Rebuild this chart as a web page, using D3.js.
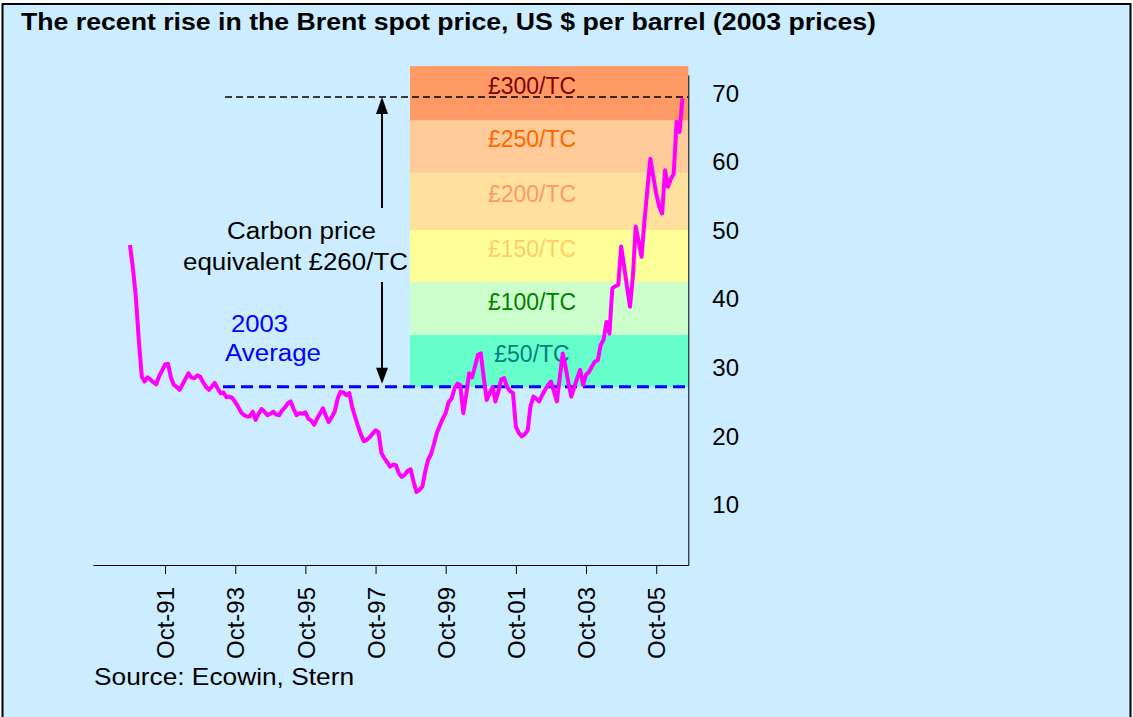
<!DOCTYPE html>
<html>
<head>
    <meta charset="utf-8">
    <script src="https://d3js.org/d3.v7.min.js"></script>
    <style>
      body { margin: 0; background: #fff; }
      text { font-family: "Liberation Sans", Arial, sans-serif; }
    </style>
</head>
<body>
    <script>
      // monthly Brent spot, 2003 prices, first value is Oct 1990
      const firstMonth = new Date(1990, 9, 1);
      const brentPrice = [
        47.9, 44.5, 40.4,                                                   // 1990 (Oct-Dec)
        34.0, 28.7, 28.0, 28.6, 28.3, 27.9, 27.6, 28.8, 29.6, 30.5, 30.6, 28.6, // 1991
        27.5, 27.2, 26.8, 27.6, 28.4, 29.2, 28.6, 28.5, 28.9, 28.7, 27.9, 27.2, // 1992
        26.8, 27.3, 27.8, 27.0, 26.3, 26.4, 25.7, 25.8, 25.6, 25.0, 24.3, 23.5, // 1993
        23.1, 22.9, 22.9, 23.6, 22.4, 23.3, 24.0, 23.6, 23.1, 23.3, 23.6, 23.2, // 1994
        23.1, 23.8, 24.2, 24.8, 25.1, 24.0, 23.1, 23.4, 23.3, 23.5, 22.6, 22.3, // 1995
        21.7, 22.6, 23.3, 24.1, 23.0, 22.1, 22.8, 23.6, 25.5, 26.5, 26.4, 26.0, // 1996
        26.3, 24.2, 22.9, 21.5, 20.3, 19.3, 19.5, 19.9, 20.4, 20.9, 20.6, 17.6, // 1997
        16.8, 16.2, 15.6, 15.9, 15.8, 14.6, 14.1, 14.4, 15.0, 15.2, 13.4, 11.9, // 1998
        12.2, 12.7, 14.8, 16.6, 17.4, 18.9, 20.5, 21.6, 22.6, 23.4, 25.0, 25.5, // 1999
        27.0, 27.7, 27.5, 23.4, 26.0, 29.2, 28.6, 30.2, 31.9, 32.1, 28.5, 25.3, // 2000
        26.3, 27.2, 25.1, 26.5, 28.3, 28.5, 27.2, 26.6, 26.3, 21.4, 20.5, 20.0, // 2001
        20.3, 20.9, 24.3, 25.8, 25.5, 25.1, 26.0, 26.8, 27.5, 28.0, 26.6, 25.1, // 2002
        28.6, 32.1, 30.2, 27.8, 25.8, 27.2, 28.5, 29.7, 27.5, 29.0, 29.4, 30.2, // 2003
        30.9, 31.1, 33.3, 34.1, 36.7, 35.0, 41.6, 41.9, 42.1, 47.7, 44.8, 41.8, // 2004
        38.9, 43.5, 50.6, 48.4, 46.2, 51.5, 56.0, 60.5, 57.8, 55.4, 53.5, 52.5, // 2005
        58.8, 56.4, 57.5, 58.3, 65.9, 64.4, 69.3                               // 2006 (Jan-Jul)
      ];

      const avg2003 = 27.25;      // blue dashed line
      const recentPeak = 69.5;    // black dashed line

      // carbon price bands, bottom edge to top edge in $ per barrel
      const bandEdges = [27.25, 34.8, 42.5, 50.1, 58.45, 66.1, 74.0];
      const bandLabels = ['£50/TC', '£100/TC', '£150/TC', '£200/TC', '£250/TC', '£300/TC'];
      const bandFills = ['#66FFCC', '#CCFFCC', '#FFFF99', '#FFE09C', '#FFCC99', '#FF9966'];
      const bandTextColors = ['#008080', '#008000', '#FFCC66', '#FF9966', '#FF6600', '#800000'];

      const yTicks = [10, 20, 30, 40, 50, 60, 70];
      const xTickDates = ['1991-10', '1993-10', '1995-10', '1997-10', '1999-10', '2001-10', '2003-10', '2005-10'];

      const width = 1133, height = 717;
      const bg = '#CCECFF';

      const svg = d3.select('body').append('svg')
          .attr('width', width)
          .attr('height', height);

      // frame
      svg.append('rect')
          .attr('x', 2.5).attr('y', 4)
          .attr('width', 1128).attr('height', 720)
          .attr('fill', bg)
          .attr('stroke', '#000')
          .attr('stroke-width', 2);

      const x = d3.scaleTime()
          .domain([new Date(1989, 8, 11), new Date(2006, 7, 31)])
          .range([93, 688.3]);
      const y = d3.scaleLinear()
          .domain([1.25, 72.7])
          .range([565, 75]);

      const bandX0 = 410, bandX1 = x.range()[1];

      // coloured bands
      const bands = bandLabels.map((label, i) => ({
        label: label,
        lo: bandEdges[i],
        hi: bandEdges[i + 1],
        fill: bandFills[i],
        color: bandTextColors[i]
      }));

      svg.selectAll('.band')
          .data(bands)
          .enter().append('rect')
          .attr('class', 'band')
          .attr('x', bandX0)
          .attr('width', bandX1 - bandX0)
          .attr('y', d => y(d.hi))
          .attr('height', d => y(d.lo) - y(d.hi))
          .attr('fill', d => d.fill);

      // labels sit a little above the middle of each band
      svg.selectAll('.band-label')
          .data(bands)
          .enter().append('text')
          .attr('class', 'band-label')
          .attr('x', 532)
          .attr('y', d => (y(d.hi) + y(d.lo)) / 2 + 1)
          .attr('text-anchor', 'middle')
          .attr('font-size', 23)
          .attr('fill', d => d.color)
          .text(d => d.label);

      // reference lines
      svg.append('line')
          .attr('x1', 225).attr('x2', bandX1)
          .attr('y1', y(recentPeak)).attr('y2', y(recentPeak))
          .attr('stroke', '#000')
          .attr('stroke-width', 1.6)
          .attr('stroke-dasharray', '7,4');

      svg.append('line')
          .attr('x1', 223).attr('x2', 690)
          .attr('y1', y(avg2003)).attr('y2', y(avg2003))
          .attr('stroke', '#0000FF')
          .attr('stroke-width', 3)
          .attr('stroke-dasharray', '12,6');

      // double headed arrow
      const ax = 382;
      const yTop = y(recentPeak), yBot = y(avg2003);
      svg.append('line')
          .attr('x1', ax).attr('x2', ax)
          .attr('y1', yTop + 10).attr('y2', yBot - 10)
          .attr('stroke', '#000')
          .attr('stroke-width', 2);
      svg.append('path')
          .attr('d', `M${ax},${yTop} L${ax - 6},${yTop + 17} L${ax + 6},${yTop + 17} Z`)
          .attr('fill', '#000');
      svg.append('path')
          .attr('d', `M${ax},${yBot - 3} L${ax - 6},${yBot - 19} L${ax + 6},${yBot - 19} Z`)
          .attr('fill', '#000');

      // text box over the arrow
      svg.append('rect')
          .attr('x', 180).attr('y', 208)
          .attr('width', 229).attr('height', 74)
          .attr('fill', bg);

      // price line
      const brent = brentPrice.map((v, i) => ({
        date: new Date(firstMonth.getFullYear(), firstMonth.getMonth() + i, 1),
        value: v
      }));

      const line = d3.line()
          .x(d => x(d.date))
          .y(d => y(d.value));

      svg.append('path')
          .datum(brent)
          .attr('d', line)
          .attr('fill', 'none')
          .attr('stroke', '#FF00FF')
          .attr('stroke-width', 4)
          .attr('stroke-linejoin', 'round');

      // axes
      const parseMonth = d3.timeParse('%Y-%m');
      const xAxis = d3.axisBottom(x)
          .tickValues(xTickDates.map(parseMonth))
          .tickFormat(d3.timeFormat('%b-%y'))
          .tickSizeInner(9)
          .tickSizeOuter(0)
          .tickPadding(14);

      const gx = svg.append('g')
          .attr('transform', `translate(0,${y.range()[0]})`)
          .call(xAxis);
      gx.selectAll('text')
          .attr('font-size', 24)
          .attr('font-family', '"Liberation Sans", Arial, sans-serif')
          .attr('fill', '#000')
          .attr('text-anchor', 'end')
          .attr('transform', 'rotate(-90)')
          .attr('x', -22)
          .attr('y', 0)
          .attr('dy', '0.36em');
      gx.selectAll('line').attr('stroke', '#000');
      gx.select('.domain').attr('stroke', '#000');

      const yAxis = d3.axisRight(y)
          .tickValues(yTicks)
          .tickSize(0)
          .tickPadding(24);

      const gy = svg.append('g')
          .attr('transform', `translate(${bandX1},0)`)
          .call(yAxis);
      gy.selectAll('text')
          .attr('font-size', 24)
          .attr('font-family', '"Liberation Sans", Arial, sans-serif')
          .attr('fill', '#000');
      gy.select('.domain').attr('stroke', '#000');

      // title and notes
      svg.append('text')
          .attr('x', 21).attr('y', 30)
          .attr('font-size', 23)
          .attr('font-weight', 'bold')
          .attr('textLength', 855)
          .attr('lengthAdjust', 'spacingAndGlyphs')
          .text('The recent rise in the Brent spot price, US $ per barrel (2003 prices)');

      svg.append('text')
          .attr('x', 227).attr('y', 239)
          .attr('font-size', 23)
          .attr('textLength', 149)
          .attr('lengthAdjust', 'spacingAndGlyphs')
          .text('Carbon price');
      svg.append('text')
          .attr('x', 183).attr('y', 270)
          .attr('font-size', 23)
          .attr('textLength', 225)
          .attr('lengthAdjust', 'spacingAndGlyphs')
          .text('equivalent £260/TC');

      svg.append('text')
          .attr('x', 231).attr('y', 332)
          .attr('font-size', 23)
          .attr('fill', '#0000FF')
          .attr('textLength', 57)
          .attr('lengthAdjust', 'spacingAndGlyphs')
          .text('2003');
      svg.append('text')
          .attr('x', 225).attr('y', 361)
          .attr('font-size', 23)
          .attr('fill', '#0000FF')
          .attr('textLength', 96)
          .attr('lengthAdjust', 'spacingAndGlyphs')
          .text('Average');

      svg.append('text')
          .attr('x', 94).attr('y', 685)
          .attr('font-size', 24)
          .attr('textLength', 260)
          .attr('lengthAdjust', 'spacingAndGlyphs')
          .text('Source: Ecowin, Stern');
    </script>
</body>
</html>
